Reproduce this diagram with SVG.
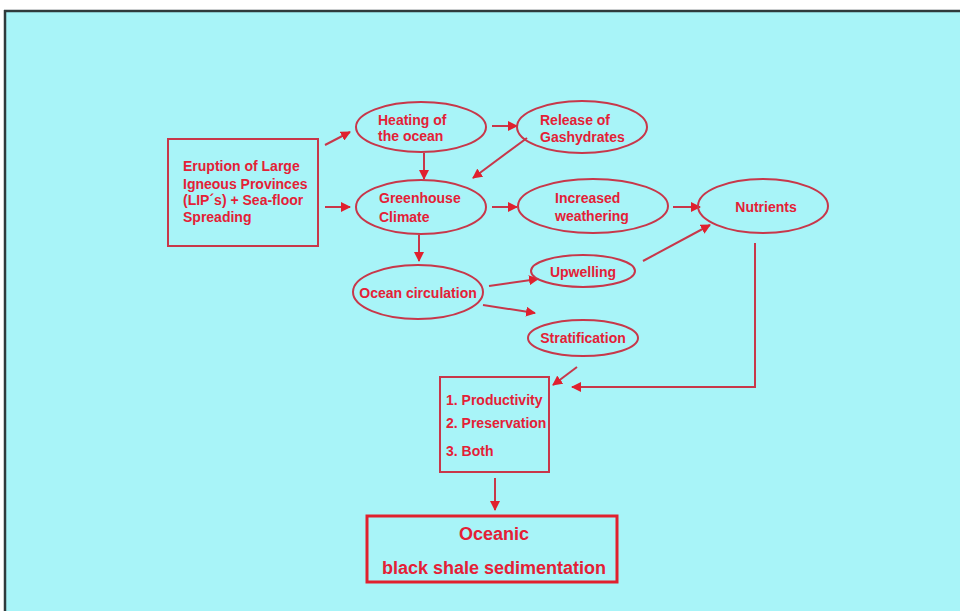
<svg xmlns="http://www.w3.org/2000/svg" width="960" height="611" viewBox="0 0 960 611">
<defs>
<marker id="ah" viewBox="0 0 10 10" refX="9" refY="5" markerWidth="10" markerHeight="10" markerUnits="userSpaceOnUse" orient="auto">
<path d="M0,0 L10,5 L0,10 z" fill="#E0202E"/>
</marker>
<style>
.n{fill:none;stroke:#C8374A;stroke-width:2}
.b{fill:none;stroke:#C8374A;stroke-width:2}
.t{font-family:"Liberation Sans",Arial,sans-serif;font-weight:bold;font-size:14px;fill:#E42036}
.c{stroke:#C8374A;stroke-width:2;fill:none;marker-end:url(#ah)}
</style>
</defs>
<rect x="0" y="0" width="960" height="611" fill="#ffffff"/>
<rect x="5" y="11" width="960" height="610" fill="#A8F4F8"/>
<line x1="4" y1="11" x2="960" y2="11" stroke="#2F3A3C" stroke-width="2.5"/>
<line x1="5" y1="10" x2="5" y2="611" stroke="#2F3A3C" stroke-width="2.5"/>

<g id="connectors">
<line class="c" x1="325" y1="145" x2="350" y2="132"/>
<line class="c" x1="325" y1="207" x2="350" y2="207"/>
<line class="c" x1="424" y1="153" x2="424" y2="179"/>
<line class="c" x1="419" y1="235" x2="419" y2="261"/>
<line class="c" x1="492" y1="126" x2="517" y2="126"/>
<line class="c" x1="527" y1="138" x2="473" y2="178"/>
<line class="c" x1="492" y1="207" x2="517" y2="207"/>
<line class="c" x1="673" y1="207" x2="700" y2="207"/>
<line class="c" x1="489" y1="286" x2="538" y2="279"/>
<line class="c" x1="483" y1="305" x2="535" y2="313"/>
<line class="c" x1="643" y1="261" x2="710" y2="225"/>
<line class="c" x1="577" y1="367" x2="553" y2="385"/>
<polyline class="c" points="755,243 755,387 572,387"/>
<line class="c" x1="495" y1="478" x2="495" y2="510"/>
</g>

<g id="eruption">
<rect class="b" x="168" y="139" width="150" height="107"/>
<text class="t" x="183" y="171">Eruption of Large</text>
<text class="t" x="183" y="189">Igneous Provinces</text>
<text class="t" x="183" y="205">(LIP´s) + Sea-floor</text>
<text class="t" x="183" y="222">Spreading</text>
</g>

<g id="heating">
<ellipse class="n" cx="421" cy="127" rx="65" ry="25"/>
<text class="t" x="378" y="125">Heating of</text>
<text class="t" x="378" y="141">the ocean</text>
</g>

<g id="greenhouse">
<ellipse class="n" cx="421" cy="207" rx="65" ry="27"/>
<text class="t" x="379" y="203">Greenhouse</text>
<text class="t" x="379" y="222">Climate</text>
</g>

<g id="release">
<ellipse class="n" cx="582" cy="127" rx="65" ry="26"/>
<text class="t" x="540" y="125">Release of</text>
<text class="t" x="540" y="142">Gashydrates</text>
</g>

<g id="weathering">
<ellipse class="n" cx="593" cy="206" rx="75" ry="27"/>
<text class="t" x="555" y="203">Increased</text>
<text class="t" x="555" y="221">weathering</text>
</g>

<g id="nutrients">
<ellipse class="n" cx="763" cy="206" rx="65" ry="27"/>
<text class="t" x="766" y="212" text-anchor="middle">Nutrients</text>
</g>

<g id="ocean-circulation">
<ellipse class="n" cx="418" cy="292" rx="65" ry="27"/>
<text class="t" x="418" y="298" text-anchor="middle">Ocean circulation</text>
</g>

<g id="upwelling">
<ellipse class="n" cx="583" cy="271" rx="52" ry="16"/>
<text class="t" x="583" y="277" text-anchor="middle">Upwelling</text>
</g>

<g id="stratification">
<ellipse class="n" cx="583" cy="338" rx="55" ry="18"/>
<text class="t" x="583" y="343" text-anchor="middle">Stratification</text>
</g>

<g id="productivity">
<rect class="b" x="440" y="377" width="109" height="95"/>
<text class="t" x="446" y="405">1. Productivity</text>
<text class="t" x="446" y="428">2. Preservation</text>
<text class="t" x="446" y="456">3. Both</text>
</g>

<g id="oceanic">
<rect x="367" y="516" width="250" height="66" fill="none" stroke="#E0202E" stroke-width="3"/>
<text class="t" x="494" y="540" text-anchor="middle" style="font-size:18px">Oceanic</text>
<text class="t" x="494" y="574" text-anchor="middle" style="font-size:18px">black shale sedimentation</text>
</g>
</svg>
